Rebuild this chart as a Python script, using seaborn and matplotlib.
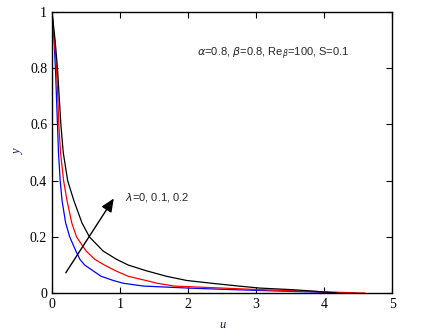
import numpy as np
import pandas as pd
import matplotlib
matplotlib.use("Agg")
import matplotlib.pyplot as plt
import seaborn as sns

# Profile heights and velocity u for each lambda
y_levels = [1.0, 0.9, 0.8, 0.7, 0.6, 0.5, 0.4, 0.33, 0.25, 0.2, 0.15, 0.12,
            0.1, 0.08, 0.06, 0.045, 0.035, 0.025, 0.018, 0.012, 0.007, 0.003, 0.0]
u_lam0 = [0.0, 0.03, 0.05, 0.065, 0.08, 0.095, 0.12, 0.147, 0.20, 0.26, 0.35,
          0.41, 0.48, 0.60, 0.72, 0.90, 1.05, 1.35, 2.0, 2.7, 3.4, 4.0, 4.46]
u_lam01 = [0.0, 0.035, 0.065, 0.085, 0.10, 0.125, 0.17, 0.22, 0.29, 0.36, 0.50,
           0.63, 0.77, 0.93, 1.12, 1.38, 1.55, 1.80, 2.5, 3.1, 3.7, 4.2, 4.6]
u_lam02 = [0.0, 0.045, 0.08, 0.105, 0.13, 0.165, 0.23, 0.32, 0.44, 0.55, 0.75,
           0.95, 1.12, 1.38, 1.68, 1.98, 2.35, 2.75, 3.05, 3.55, 3.85, 4.05, 4.2]
lambdas = ["0", "0.1", "0.2"]
colors = ["blue", "red", "black"]

sns.set_style("ticks")
plt.rcParams["font.family"] = ["Liberation Serif", "DejaVu Serif"]

frames = []
for lam, u in zip(lambdas, [u_lam0, u_lam01, u_lam02]):
    frames.append(pd.DataFrame({"u": u, "y": y_levels, "lam": lam}))
df = pd.concat(frames, ignore_index=True)

fig = plt.figure(figsize=(4.23, 3.35), dpi=100)
ax = fig.add_axes([0.123, 0.125, 0.804, 0.839])
sns.lineplot(data=df, x="u", y="y", hue="lam", palette=colors, sort=False,
             estimator=None, legend=False, linewidth=0.9, ax=ax)

ax.set_xlim(0, 5)
ax.set_ylim(0, 1)
ax.set_xticks([0, 1, 2, 3, 4, 5])
ax.set_yticks([0, 0.2, 0.4, 0.6, 0.8, 1])
ax.yaxis.set_major_formatter(matplotlib.ticker.FormatStrFormatter("%g"))
ax.tick_params(direction="in", top=True, right=True, labelsize=10, length=4,
               width=0.8, colors="black")
for s in ax.spines.values():
    s.set_visible(True)
    s.set_linewidth(1.0)
    s.set_color("black")

ax.set_xlabel("u", fontstyle="italic", fontsize=9, color="#1a1a4a", labelpad=6)
ax.set_ylabel("y", fontstyle="italic", fontsize=9, color="#1a1a4a", labelpad=4)

ax.text(2.13, 0.85, r"$\alpha$=0.8, $\beta$=0.8, Re$_{\beta}$=100, S=0.1",
        fontsize=8, family=["Liberation Sans", "DejaVu Sans"], va="center")
ax.annotate("", xy=(0.93, 0.345), xytext=(0.18, 0.064),
            arrowprops=dict(arrowstyle="-|>,head_length=0.8,head_width=0.35",
                            color="black", lw=1.0))
ax.text(1.07, 0.34, r"$\lambda$=0, 0.1, 0.2", fontsize=8,
        family=["Liberation Sans", "DejaVu Sans"], va="center")

fig.savefig("out.png", dpi=100)
